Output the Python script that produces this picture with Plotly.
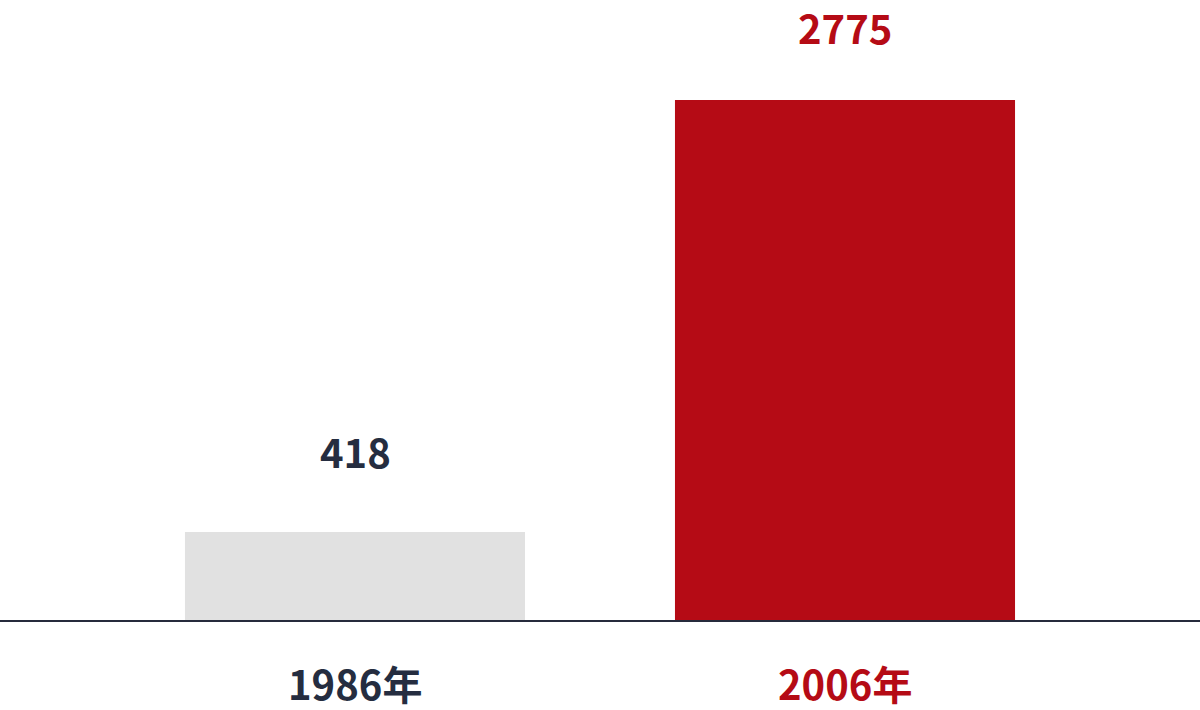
import plotly.graph_objects as go

# data
categories = ["1986年", "2006年"]
values = [418, 2775]

bar_colors = ["#e1e1e1", "#b50b15"]
label_colors = ["#252d40", "#b50b15"]

# bars in the reference are drawn from a slightly offset baseline
BAR_BASE = -62
FONT = "Noto Sans CJK SC"

fig = go.Figure(
    go.Bar(
        x=list(range(len(categories))),
        y=[v - BAR_BASE for v in values],
        base=BAR_BASE,
        width=0.694,
        marker=dict(color=bar_colors, line=dict(width=0)),
        hoverinfo="skip",
    )
)

annotations = []
for i, (cat, val) in enumerate(zip(categories, values)):
    # value above the bar
    annotations.append(dict(
        x=i, y=val, xref="x", yref="y",
        text=str(val), showarrow=False,
        yanchor="bottom", yshift=42 if i == 1 else 50,
        font=dict(family=FONT, size=40, color=label_colors[i], weight="bold"),
    ))
    # category label under the axis
    annotations.append(dict(
        x=i, y=0, xref="x", yref="paper",
        text=cat, showarrow=False,
        yanchor="top", yshift=-32,
        font=dict(family=FONT, size=40, color=label_colors[i], weight="bold"),
    ))

fig.update_layout(
    width=1200,
    height=710,
    margin=dict(l=0, r=0, t=0, b=90),
    paper_bgcolor="white",
    plot_bgcolor="white",
    showlegend=False,
    annotations=annotations,
    xaxis=dict(
        range=[-0.7245, 1.7245],
        showgrid=False, zeroline=False, showticklabels=False,
        showline=True, linecolor="#262b3c", linewidth=2,
        fixedrange=True,
    ),
    yaxis=dict(
        range=[BAR_BASE, 3320.5],
        visible=False, fixedrange=True,
    ),
)

# drop the browser's default body margin so the chart sits at the page corner
fig.write_html(
    "out.html",
    config={"displayModeBar": False},
    post_script="document.body.style.margin='0';document.body.style.overflow='hidden';",
)
